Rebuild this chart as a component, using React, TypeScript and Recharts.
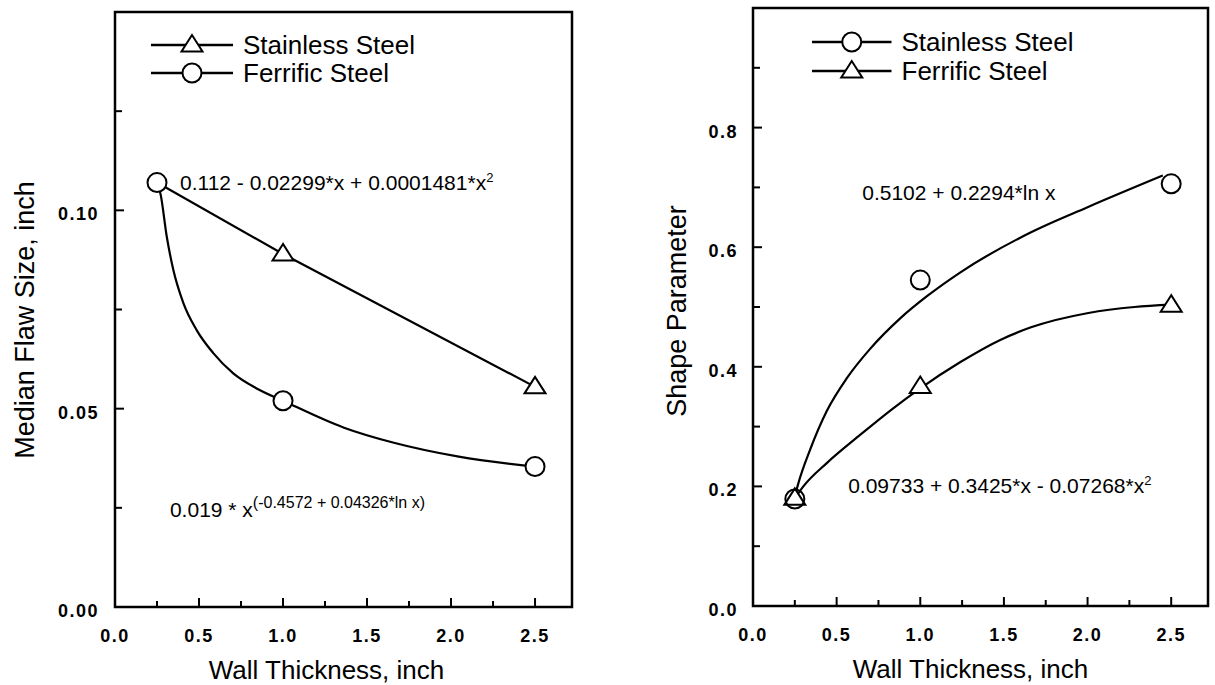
import React from 'react';
import {
  ComposedChart,
  Line,
  Scatter,
  XAxis,
  YAxis,
  ReferenceArea,
  ReferenceDot,
  Legend,
} from 'recharts';

const FONT = '"Liberation Sans", Arial, Helvetica, sans-serif';

// ---------- shared x axis ----------
const xDomainMax = 2.72;
const xTicks = [0, 0.25, 0.5, 0.75, 1.0, 1.25, 1.5, 1.75, 2.0, 2.25, 2.5];
const xLabeledTicks = [0, 0.5, 1.0, 1.5, 2.0, 2.5];

// ---------- left panel: median flaw size ----------
const thickness = [0.25, 1.0, 2.5];
const stainlessFlaw = [0.107, 0.089, 0.0555];
const ferriticFlaw = [0.107, 0.052, 0.0354];
const ferriticFlawFitX = [0.25, 0.272, 0.308, 0.347, 0.407, 0.486, 0.585, 0.704, 0.843, 1.0, 1.363, 1.66, 2.046, 2.5];
const ferriticFlawFitY = [0.107, 0.1039, 0.0934, 0.085, 0.0766, 0.0698, 0.064, 0.0589, 0.0551, 0.052, 0.0452, 0.0414, 0.0379, 0.0354];
const flawTicks = [0, 0.025, 0.05, 0.075, 0.1, 0.125];
const flawLabeledTicks = [0, 0.05, 0.1];

// ---------- right panel: shape parameter ----------
const stainlessShape = [0.179, 0.545, 0.706];
const ferriticShape = [0.18, 0.367, 0.503];
const stainlessShapeFitX = [0.25, 0.271, 0.341, 0.441, 0.561, 0.7, 0.88, 1.04, 1.24, 1.662, 2.0, 2.45];
const stainlessShapeFitY = [0.183, 0.205, 0.261, 0.326, 0.381, 0.43, 0.481, 0.518, 0.558, 0.625, 0.667, 0.72];
const ferriticShapeFitX = [0.25, 0.301, 0.441, 0.64, 0.84, 1.0, 1.24, 1.478, 1.662, 2.005, 2.28, 2.5];
const ferriticShapeFitY = [0.18, 0.2, 0.239, 0.286, 0.331, 0.364, 0.408, 0.445, 0.466, 0.49, 0.5, 0.504];
const shapeTicks = [0, 0.1, 0.2, 0.3, 0.4, 0.5, 0.6, 0.7, 0.8, 0.9];
const shapeLabeledTicks = [0, 0.2, 0.4, 0.6, 0.8];

const zip = (xs: number[], ys: number[]) => xs.map((x, i) => ({ x, y: ys[i] }));

const stainlessFlawRows = zip(thickness, stainlessFlaw);
// first stainless point is hidden beneath the ferritic circle at 0.25 in the original
const stainlessFlawMarkers = stainlessFlawRows.filter((_, i) => i > 0);
const ferriticFlawRows = zip(thickness, ferriticFlaw);
const ferriticFlawFit = zip(ferriticFlawFitX, ferriticFlawFitY);

const stainlessShapeRows = zip(thickness, stainlessShape);
const ferriticShapeRows = zip(thickness, ferriticShape);
const stainlessShapeFit = zip(stainlessShapeFitX, stainlessShapeFitY);
const ferriticShapeFit = zip(ferriticShapeFitX, ferriticShapeFitY);

const near = (a: number, b: number) => Math.abs(a - b) < 1e-6;

// ---------- marker shapes ----------
const circlePath = (cx: number, cy: number, fill: string) => (
  <circle cx={cx} cy={cy} r={9.5} fill={fill} stroke="#000" strokeWidth={2} />
);
const trianglePath = (cx: number, cy: number, fill: string) => (
  <polygon
    points={`${cx},${cy - 10} ${cx - 10.5},${cy + 6.5} ${cx + 10.5},${cy + 6.5}`}
    fill={fill}
    stroke="#000"
    strokeWidth={2}
    strokeLinejoin="miter"
  />
);

const CircleShape = (fill: string) => (p: any) => circlePath(p.cx, p.cy, fill);
const TriangleShape = (fill: string) => (p: any) => trianglePath(p.cx, p.cy, fill);

// ---------- ticks ----------
const makeXTick = (labeled: number[]) => (props: any) => {
  const { x, y, payload } = props;
  const v = payload.value as number;
  const major = labeled.some((l) => near(l, v));
  return (
    <g>
      {v > 0 && (
        <line x1={x} x2={x} y1={y} y2={y - (major ? 9 : 6)} stroke="#000" strokeWidth={2} />
      )}
      {major && (
        <text
          x={x}
          y={y + 35}
          textAnchor="middle"
          fontFamily={FONT}
          fontWeight="bold"
          fontSize={18}
          letterSpacing={1.5}
          fill="#000"
        >
          {v.toFixed(1)}
        </text>
      )}
    </g>
  );
};

const makeYTick = (labeled: number[], digits: number, gap: number) => (props: any) => {
  const { x, y, payload } = props;
  const v = payload.value as number;
  const major = labeled.some((l) => near(l, v));
  return (
    <g>
      {v > 0 && (
        <line x1={x} x2={x + (major ? 9 : 7)} y1={y} y2={y} stroke="#000" strokeWidth={2} />
      )}
      {major && (
        <text
          x={x - gap}
          y={y + 10}
          textAnchor="end"
          fontFamily={FONT}
          fontWeight="bold"
          fontSize={18}
          letterSpacing={1.5}
          fill="#000"
        >
          {v.toFixed(digits)}
        </text>
      )}
    </g>
  );
};

// ---------- titles ----------
const xTitle = (dx: number) => (props: any) => {
  const vb = props.viewBox || {};
  return (
    <text
      x={vb.x + vb.width / 2 + dx}
      y={vb.y + 72}
      textAnchor="middle"
      fontFamily={FONT}
      fontSize={26}
      fill="#000"
    >
      Wall Thickness, inch
    </text>
  );
};

const yTitle = (text: string, dx: number, cy: number) => (props: any) => {
  const vb = props.viewBox || {};
  const cx = vb.x + (vb.width || 0) - dx;
  return (
    <text
      x={cx}
      y={cy}
      transform={`rotate(-90, ${cx}, ${cy})`}
      textAnchor="middle"
      dy={9.5}
      fontFamily={FONT}
      fontSize={27}
      fill="#000"
    >
      {text}
    </text>
  );
};

// ---------- equation labels ----------
const eqLabel = (main: string, sup: string, supSize: number, supDy: number) => (props: any) => {
  const vb = props.viewBox || {};
  return (
    <text x={vb.x} y={vb.y} dy={7} fontFamily={FONT} fontSize={21} fill="#000">
      <tspan>{main}</tspan>
      {sup && (
        <tspan dy={supDy} fontSize={supSize}>
          {sup}
        </tspan>
      )}
    </text>
  );
};

// ---------- legend ----------
type LegendRow = { label: string; marker: 'circle' | 'triangle' };
const leftLegendRows: LegendRow[] = [
  { label: 'Stainless Steel', marker: 'triangle' },
  { label: 'Ferrific Steel', marker: 'circle' },
];
const rightLegendRows: LegendRow[] = [
  { label: 'Stainless Steel', marker: 'circle' },
  { label: 'Ferrific Steel', marker: 'triangle' },
];

const LegendGraphic = ({ rows, lineLen, spacing }: { rows: LegendRow[]; lineLen: number; spacing: number }) => (
  <svg width={340} height={72} style={{ overflow: 'visible', display: 'block' }}>
    {rows.map((r, i) => {
      const y = 20 + spacing * i;
      const mx = 11 + lineLen / 2;
      return (
        <g key={r.label}>
          <line x1={11} x2={11 + lineLen} y1={y} y2={y} stroke="#000" strokeWidth={2.5} />
          {r.marker === 'circle' ? circlePath(mx, y, '#fff') : trianglePath(mx, y, '#fff')}
          <text x={11 + lineLen + 10} y={y + 9} fontFamily={FONT} fontSize={26} fill="#000">
            {r.label}
          </text>
        </g>
      );
    })}
  </svg>
);

const W_LEFT = 600;
const W_RIGHT = 607;
const H = 685;

export default function App() {
  return (
    <div
      style={{
        position: 'absolute',
        left: 0,
        top: 0,
        width: 1215,
        height: 685,
        background: '#fff',
        overflow: 'hidden',
      }}
    >
      {/* Left panel */}
      <div style={{ position: 'absolute', left: 0, top: 0 }}>
        <ComposedChart
          width={W_LEFT}
          height={H}
          margin={{ top: 12, left: 114, right: W_LEFT - 572, bottom: H - 607 - 1 }}
        >
          <XAxis
            type="number"
            dataKey="x"
            domain={[0, xDomainMax]}
            ticks={xTicks}
            interval={0}
            height={1}
            tickSize={0}
            tickMargin={0}
            tickLine={false}
            axisLine={false}
            tick={makeXTick(xLabeledTicks)}
            label={xTitle(-17)}
            allowDataOverflow
          />
          <YAxis
            type="number"
            dataKey="y"
            domain={[0, 0.15]}
            ticks={flawTicks}
            interval={0}
            width={1}
            tickSize={0}
            tickMargin={0}
            tickLine={false}
            axisLine={false}
            tick={makeYTick(flawLabeledTicks, 2, 16)}
            label={yTitle('Median Flaw Size, inch', 91, 320)}
            allowDataOverflow
          />
          <ReferenceArea
            x1={0}
            x2={xDomainMax}
            y1={0}
            y2={0.15}
            fill="none"
            fillOpacity={0}
            stroke="#000"
            strokeWidth={2.5}
            ifOverflow="visible"
          />
          <Line
            data={stainlessFlawRows}
            dataKey="y"
            type="linear"
            stroke="#000"
            strokeWidth={2.2}
            dot={false}
            activeDot={false}
            isAnimationActive={false}
            legendType="none"
          />
          <Line
            data={ferriticFlawFit}
            dataKey="y"
            type="monotone"
            stroke="#000"
            strokeWidth={2.2}
            dot={false}
            activeDot={false}
            isAnimationActive={false}
            legendType="none"
          />
          <Scatter
            data={stainlessFlawMarkers}
            dataKey="y"
            shape={TriangleShape('#fff')}
            isAnimationActive={false}
            legendType="none"
          />
          <Scatter
            data={ferriticFlawRows}
            dataKey="y"
            shape={CircleShape('#fff')}
            isAnimationActive={false}
            legendType="none"
          />
          <ReferenceDot
            x={0.387}
            y={0.1069}
            r={0}
            fill="none"
            stroke="none"
            ifOverflow="visible"
            label={eqLabel('0.112 - 0.02299*x + 0.0001481*x', '2', 13, -8)}
          />
          <ReferenceDot
            x={0.327}
            y={0.0245}
            r={0}
            fill="none"
            stroke="none"
            ifOverflow="visible"
            label={eqLabel('0.019 * x', '(-0.4572 + 0.04326*ln x)', 16, -9)}
          />
          <Legend
            layout="vertical"
            align="center"
            verticalAlign="middle"
            wrapperStyle={{ left: 140, top: 25, width: 340, height: 72 }}
            content={() => <LegendGraphic rows={leftLegendRows} lineLen={82} spacing={28} />}
          />
        </ComposedChart>
      </div>

      {/* Right panel */}
      <div style={{ position: 'absolute', left: 608, top: 0 }}>
        <ComposedChart
          width={W_RIGHT}
          height={H}
          margin={{ top: 8, left: 753 - 608 - 1, right: 608 + W_RIGHT - 1208, bottom: H - 606 - 1 }}
        >
          <XAxis
            type="number"
            dataKey="x"
            domain={[0, xDomainMax]}
            ticks={xTicks}
            interval={0}
            height={1}
            tickSize={0}
            tickMargin={0}
            tickLine={false}
            axisLine={false}
            tick={makeXTick(xLabeledTicks)}
            label={xTitle(-10)}
            allowDataOverflow
          />
          <YAxis
            type="number"
            dataKey="y"
            domain={[0, 1.0]}
            ticks={shapeTicks}
            interval={0}
            width={1}
            tickSize={0}
            tickMargin={0}
            tickLine={false}
            axisLine={false}
            tick={makeYTick(shapeLabeledTicks, 1, 15)}
            label={yTitle('Shape Parameter', 77, 311)}
            allowDataOverflow
          />
          <ReferenceArea
            x1={0}
            x2={xDomainMax}
            y1={0}
            y2={1.0}
            fill="none"
            fillOpacity={0}
            stroke="#000"
            strokeWidth={2.5}
            ifOverflow="visible"
          />
          <Line
            data={stainlessShapeFit}
            dataKey="y"
            type="monotone"
            stroke="#000"
            strokeWidth={2.2}
            dot={false}
            activeDot={false}
            isAnimationActive={false}
            legendType="none"
          />
          <Line
            data={ferriticShapeFit}
            dataKey="y"
            type="monotone"
            stroke="#000"
            strokeWidth={2.2}
            dot={false}
            activeDot={false}
            isAnimationActive={false}
            legendType="none"
          />
          <Scatter
            data={ferriticShapeRows}
            dataKey="y"
            shape={TriangleShape('#fff')}
            isAnimationActive={false}
            legendType="none"
          />
          <Scatter
            data={stainlessShapeRows}
            dataKey="y"
            shape={CircleShape('none')}
            isAnimationActive={false}
            legendType="none"
          />
          <ReferenceDot
            x={0.653}
            y={0.69}
            r={0}
            fill="none"
            stroke="none"
            ifOverflow="visible"
            label={eqLabel('0.5102 + 0.2294*ln x', '', 13, 0)}
          />
          <ReferenceDot
            x={0.569}
            y={0.2}
            r={0}
            fill="none"
            stroke="none"
            ifOverflow="visible"
            label={eqLabel('0.09733 + 0.3425*x - 0.07268*x', '2', 13, -8)}
          />
          <Legend
            layout="vertical"
            align="center"
            verticalAlign="middle"
            wrapperStyle={{ left: 192.5, top: 22, width: 340, height: 72 }}
            content={() => <LegendGraphic rows={rightLegendRows} lineLen={79.5} spacing={29} />}
          />
        </ComposedChart>
      </div>
    </div>
  );
}
